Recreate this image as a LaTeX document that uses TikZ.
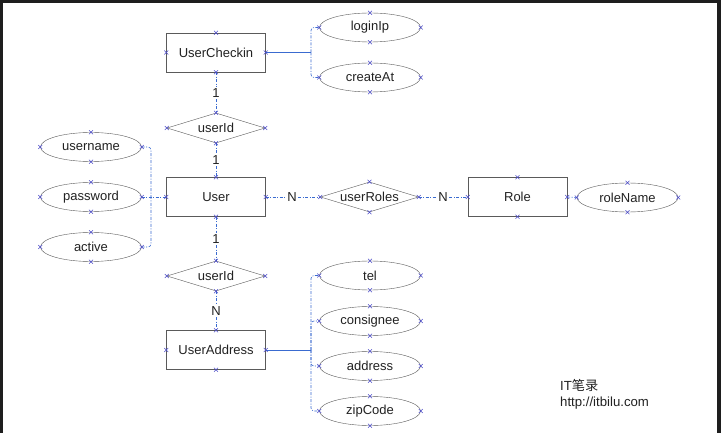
\documentclass[tikz,border=0pt]{standalone}
\usepackage{fontspec}
\setmainfont{Liberation Sans}
\newfontfamily\cjk{Noto Sans CJK SC}
\usetikzlibrary{shapes.geometric,shapes.misc}
\definecolor{shp}{HTML}{5A5A5A}
\definecolor{cnc}{HTML}{3A6BD0}
\definecolor{mkc}{HTML}{4B4BC8}
\definecolor{txt}{HTML}{222222}
\definecolor{frame}{HTML}{1E1E1E}
\begin{document}
\begin{tikzpicture}[x=1pt,y=-1pt,font=\fontsize{13}{15}\selectfont,
 ent/.style={draw=shp,rectangle,minimum width=99pt,minimum height=39pt,inner sep=0pt,text=txt},
 att/.style={draw=shp,ellipse,minimum width=101pt,minimum height=29pt,inner sep=0pt,text=txt},
 rel/.style={draw=shp,diamond,aspect=3.2,minimum width=98pt,minimum height=30pt,inner sep=0pt,text=txt},
 card/.style={inner sep=1.5pt,text=txt},
 cn/.style={draw=cnc,line width=0.6pt,dash pattern=on 3pt off 1.5pt on 1pt off 1.5pt},
 sl/.style={draw=cnc,line width=0.6pt},
 mk/.style={cross out,draw=mkc,line width=0.5pt,minimum size=3.5pt,inner sep=0pt},
 wm/.style={anchor=west,text=txt,inner sep=0pt,font=\fontsize{13.2}{15}\selectfont}]
\useasboundingbox (0,0) rectangle (721,433);
\fill[white] (0,0) rectangle (721,433);
\fill[frame] (0,0) rectangle (721,3);
\fill[frame] (0,0) rectangle (3,433);
\fill[frame] (717,0) rectangle (721,433);

% nodes
\node[ent] (uc) at (216,52.5) {UserCheckin};
\node[att] (loginIp) at (370,27.5) {loginIp};
\node[att] (createAt) at (370,77.5) {createAt};
\node[card] (c1) at (216,93) {1};
\node[rel] (uid1) at (216,128) {userId};
\node[card] (c2) at (216,160) {1};
\node[ent] (user) at (216,197) {User};
\node[att] (username) at (91,147) {username};
\node[att] (password) at (91,197) {password};
\node[att] (active) at (91,247) {active};
\node[card] (c3) at (216,239) {1};
\node[rel] (uid2) at (216,276) {userId};
\node[card] (c4) at (216,311) {N};
\node[ent] (ua) at (216,350) {UserAddress};
\node[att] (tel) at (370,275.5) {tel};
\node[att] (consignee) at (370,321) {consignee};
\node[att] (address) at (370,366) {address};
\node[att] (zip) at (370,411) {zipCode};
\node[card] (n1) at (292,197) {N};
\node[rel] (ur) at (369.5,197) {userRoles};
\node[card] (n2) at (443,197) {N};
\node[ent] (role) at (517.5,197) {Role};
\node[att] (rn) at (627.5,197.5) {roleName};

\node[wm] (wm1) at (560,385) {IT{\cjk 笔录}};
\node[wm] (wm2) at (560,403) {http://itbilu.com};

% connectors
\draw[cn] (uc.south) -- (c1.north);
\draw[cn] (c1.south) -- (uid1.north);
\draw[cn] (uid1.south) -- (c2.north);
\draw[cn] (c2.south) -- (user.north);
\draw[cn] (user.south) -- (c3.north);
\draw[cn] (c3.south) -- (uid2.north);
\draw[cn] (uid2.south) -- (c4.north);
\draw[cn] (c4.south) -- (ua.north);
\draw[cn] (user.east) -- (n1.west);
\draw[cn] (n1.east) -- (ur.west);
\draw[cn] (ur.east) -- (n2.west);
\draw[cn] (n2.east) -- (role.west);
\draw[cn] (role.east) -- (rn.west);

\coordinate (j1) at (311,52.5);
\draw[sl] (uc.east) -- (j1);
\draw[cn,rounded corners=3pt] (j1) |- (loginIp.west);
\draw[cn,rounded corners=3pt] (j1) |- (createAt.west);

\coordinate (j2) at (151,197);
\draw[cn,rounded corners=3pt] (username.east) -| (j2);
\draw[cn,rounded corners=3pt] (active.east) -| (j2);
\draw[cn] (password.east) -- (user.west);

\coordinate (j3) at (311,350);
\draw[sl] (ua.east) -- (j3);
\draw[cn,rounded corners=3pt] (j3) |- (tel.west);
\draw[cn,rounded corners=3pt] (j3) |- (consignee.west);
\draw[cn,rounded corners=3pt] (j3) |- (address.west);
\draw[cn,rounded corners=3pt] (j3) |- (zip.west);

% connection point markers
\foreach \n in {uc,loginIp,createAt,uid1,user,username,password,active,uid2,ua,tel,consignee,address,zip,ur,role,rn}
  \foreach \a in {north,south,east,west}
    \node[mk] at (\n.\a) {};
\end{tikzpicture}
\end{document}
